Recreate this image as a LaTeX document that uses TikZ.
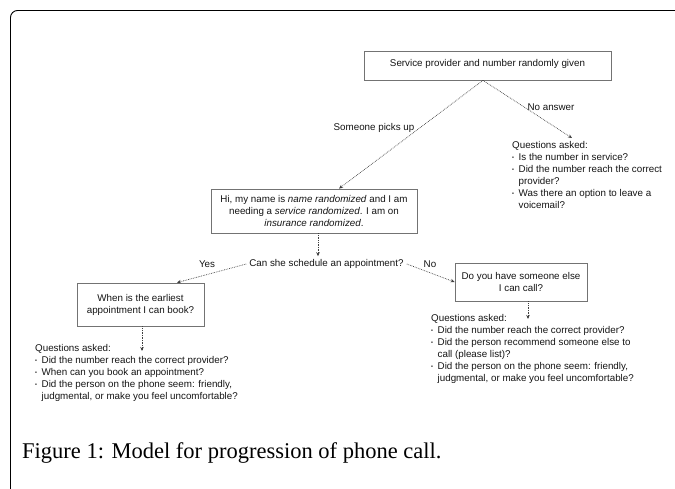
\documentclass[tikz,border=0pt]{standalone}
\usepackage{fontspec}
\setmainfont{Liberation Sans}
\newfontfamily\capfont{Liberation Serif}
\usetikzlibrary{arrows.meta}
\newcommand\qb{\makebox[6.5pt][l]{\raisebox{0.8pt}{\fontsize{5.5}{6}\selectfont\textbullet}}}
\newcommand\qi{\hspace*{6.5pt}}
\begin{document}
\begin{tikzpicture}[x=1pt,y=-1pt,
  every node/.style={font=\fontsize{9.8}{12}\selectfont, text=black!92},
  box/.style={draw=black!55, line width=0.8pt, align=center, inner sep=0pt},
  qlist/.style={align=left, inner sep=0pt, anchor=north west},
  conn/.style={densely dotted, draw=black!75, line width=0.7pt, -{Stealth[length=4pt,width=3.5pt]}},
  lab/.style={inner sep=1pt}]
\useasboundingbox (0,0) rectangle (675,489);
\draw[line width=0.9pt, rounded corners=7pt] (10.5,492) -- (10.5,10.5) -- (678,10.5);

\node[box, minimum width=247pt, minimum height=29pt, text depth=5pt] (top) at (487.5,65.5) {Service provider and number randomly given};
\node[box, minimum width=206pt, minimum height=44pt] (hi) at (314,211)
  {Hi, my name is \textit{name randomized} and I am\\ needing a \textit{service randomized}. I am on\\ \textit{insurance randomized}.};
\node[inner sep=3pt] (can) at (326.5,264) {Can she schedule an appointment?};
\node[box, minimum width=127pt, minimum height=43pt] (when) at (140.5,304.5) {When is the earliest\\ appointment I can book?};
\node[box, minimum width=132pt, minimum height=38pt] (do) at (521,282) {Do you have someone else\\ I can call?};

\node[qlist] (qa1) at (512,141) {Questions asked:\\
 \qb Is the number in service?\\
 \qb Did the number reach the correct\\
 \qi provider?\\
 \qb Was there an option to leave a\\
 \qi voicemail?};
\node[qlist] (qa2) at (35,344) {Questions asked:\\
 \qb Did the number reach the correct provider?\\
 \qb When can you book an appointment?\\
 \qb Did the person on the phone seem: friendly,\\
 \qi judgmental, or make you feel uncomfortable?};
\node[qlist] (qa3) at (431,314) {Questions asked:\\
 \qb Did the number reach the correct provider?\\
 \qb Did the person recommend someone else to\\
 \qi call (please list)?\\
 \qb Did the person on the phone seem: friendly,\\
 \qi judgmental, or make you feel uncomfortable?};

\node[lab] (l1) at (374,128) {Someone picks up};
\node[lab] (l2) at (551,107) {No answer};
\node[lab] (l3) at (207,264) {Yes};
\node[lab] (l4) at (430,264) {No};

\coordinate (e1) at (572,138);
\coordinate (e2) at (142,351);
\coordinate (e3) at (528,319);

\draw[conn] ([xshift=-4.5pt]top.south) -- ([xshift=25pt]hi.north);
\draw[conn] ([xshift=-4.5pt]top.south) -- (e1);
\draw[conn] ([xshift=4pt]hi.south) -- ([xshift=4pt]hi.south |- can.north);
\draw[conn] (can.west) -- ([xshift=36.5pt]when.north);
\draw[conn] (can.east) -- (do.west);
\draw[conn] ([xshift=1.5pt]when.south) -- (e2);
\draw[conn] (do.south -| e3) -- (e3);

\node[anchor=west, inner sep=0pt, font=\capfont\fontsize{22.5}{26}\selectfont, text=black] (cap) at (22,453) {Figure 1: Model for progression of phone call.};
\end{tikzpicture}
\end{document}
